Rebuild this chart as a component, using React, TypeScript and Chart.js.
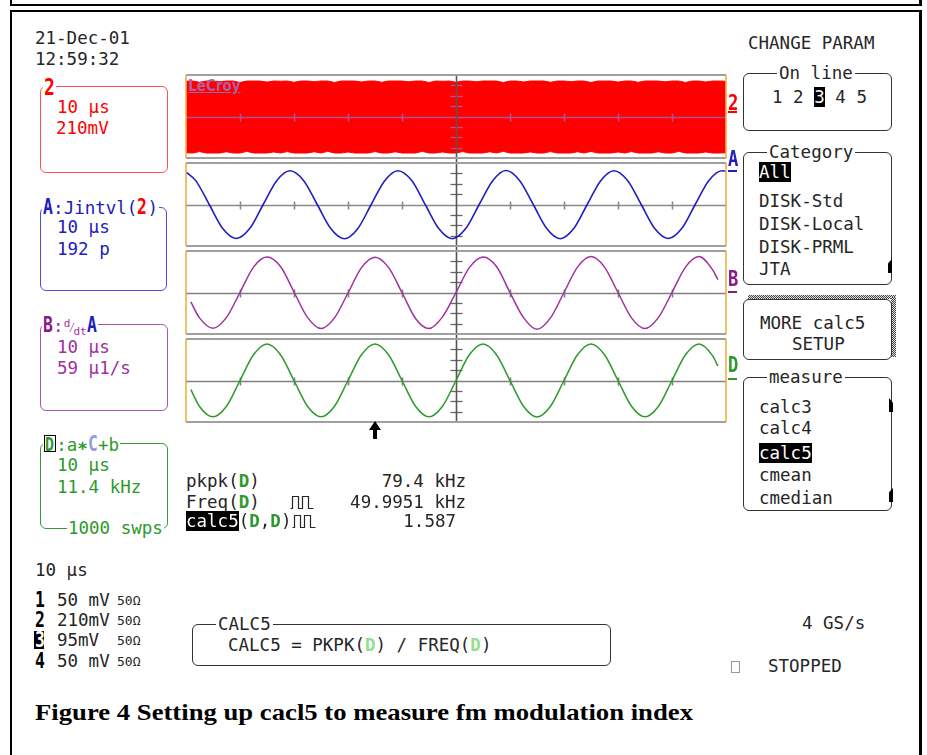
import React, { useEffect, useRef } from "react";
import { Chart, registerables } from "chart.js";

Chart.register(...registerables);

// ---------------- data ----------------
// horizontal unit: graticule divisions (10 µs/div), vertical unit: divisions (±4 per trace grid)
const TIME_DIVS = [1, 2, 3, 4, 6, 7, 8, 9];
const LEVEL_TICKS = [-3, -2, -1, 1, 2, 3];
const CENTER_DIV = 5;

// Channel 2 (FM carrier, unresolved at 10 µs/div) : top and bottom envelope, one value every 1/8 div
const CH2_STEP = 0.125;
const ch2Upper = [
  3.40, 3.42, 3.30, 3.42, 3.42, 3.35, 3.42, 3.42, 3.28, 3.42,
  3.42, 3.42, 3.32, 3.42, 3.40, 3.42, 3.30, 3.42, 3.42, 3.36,
  3.42, 3.42, 3.28, 3.42, 3.42, 3.42, 3.33, 3.42, 3.42, 3.30,
  3.42, 3.42, 3.42, 3.35, 3.42, 3.42, 3.28, 3.42, 3.40, 3.42,
  3.30, 3.42, 3.42, 3.35, 3.42, 3.42, 3.42, 3.28, 3.42, 3.42,
  3.33, 3.42, 3.42, 3.42, 3.30, 3.42, 3.42, 3.36, 3.42, 3.42,
  3.28, 3.42, 3.42, 3.42, 3.32, 3.42, 3.42, 3.30, 3.42, 3.42,
  3.42, 3.35, 3.42, 3.42, 3.28, 3.42, 3.42, 3.33, 3.42, 3.42,
  3.40,
];
const ch2Lower = [
  -3.50, -3.52, -3.38, -3.52, -3.52, -3.52, -3.40, -3.52, -3.52, -3.36,
  -3.52, -3.52, -3.52, -3.42, -3.52, -3.38, -3.52, -3.52, -3.52, -3.40,
  -3.52, -3.36, -3.52, -3.52, -3.42, -3.52, -3.52, -3.52, -3.38, -3.52,
  -3.52, -3.40, -3.52, -3.52, -3.52, -3.36, -3.52, -3.52, -3.42, -3.52,
  -3.52, -3.38, -3.52, -3.52, -3.52, -3.40, -3.52, -3.36, -3.52, -3.52,
  -3.52, -3.42, -3.52, -3.52, -3.38, -3.52, -3.52, -3.52, -3.40, -3.52,
  -3.36, -3.52, -3.52, -3.52, -3.42, -3.52, -3.38, -3.52, -3.52, -3.52,
  -3.40, -3.52, -3.52, -3.36, -3.52, -3.52, -3.52, -3.42, -3.52, -3.52,
  -3.50,
];

// Trace A : Jintvl(2)
const traceA_t = [0, 0.18, 0.43, 0.68, 0.93, 1.18, 1.43, 1.68, 1.925, 2.18, 2.43, 2.68, 2.93, 3.18, 3.43, 3.68, 3.925, 4.18, 4.43, 4.68, 4.93, 5.18, 5.43, 5.68, 5.925, 6.18, 6.43, 6.68, 6.93, 7.18, 7.43, 7.68, 7.925, 8.18, 8.43, 8.68, 8.93, 9.18, 9.43, 9.68, 9.925, 10];
const traceA_v = [3.12, 2.3, 0, -2.32, -3.28, -2.32, 0, 2.3, 3.25, 2.3, 0, -2.32, -3.3, -2.33, 0, 2.3, 3.26, 2.31, 0, -2.32, -3.3, -2.32, 0, 2.3, 3.28, 2.3, 0, -2.32, -3.3, -2.32, 0, 2.3, 3.26, 2.3, 0, -2.32, -3.28, -2.32, 0, 2.3, 3.26, 3.22];

// Trace B : d/dt A
const traceB_t = [0.09, 0.25, 0.5, 0.75, 1.0, 1.25, 1.5, 1.75, 2.0, 2.25, 2.5, 2.75, 3.0, 3.25, 3.5, 3.75, 4.0, 4.25, 4.5, 4.75, 5.0, 5.25, 5.5, 5.75, 6.0, 6.25, 6.5, 6.75, 7.0, 7.25, 7.5, 7.75, 8.0, 8.25, 8.5, 8.75, 9.0, 9.25, 9.5, 9.75, 9.85];
const traceB_v = [-0.9, -2.45, -3.45, -2.4, 0, 2.45, 3.42, 2.5, 0.05, -2.4, -3.48, -2.45, -0.05, 2.4, 3.4, 2.42, 0, -2.5, -3.48, -2.35, 0, 2.42, 3.42, 2.5, 0, -2.42, -3.55, -2.45, 0, 2.45, 3.46, 2.45, 0, -2.45, -3.48, -2.4, 0, 2.45, 3.46, 2.2, 1.25];

// Trace D : a*C+b
const traceD_t = [0.09, 0.25, 0.5, 0.75, 1.0, 1.25, 1.5, 1.75, 2.0, 2.25, 2.5, 2.75, 3.0, 3.25, 3.5, 3.75, 4.0, 4.25, 4.5, 4.75, 5.0, 5.25, 5.5, 5.75, 6.0, 6.25, 6.5, 6.75, 7.0, 7.25, 7.5, 7.75, 8.0, 8.25, 8.5, 8.75, 9.0, 9.25, 9.5, 9.75, 9.85];
const traceD_v = [-0.88, -2.5, -3.5, -2.48, 0, 2.48, 3.52, 2.48, 0, -2.48, -3.5, -2.48, 0, 2.48, 3.52, 2.48, 0, -2.48, -3.5, -2.48, 0, 2.5, 3.52, 2.48, 0, -2.48, -3.52, -2.48, 0, 2.48, 3.52, 2.48, 0, -2.48, -3.5, -2.48, 0, 2.48, 3.52, 2.4, 1.4];

// menus and readouts
const onLineItems = ["1", "2", "3", "4", "5"];
const onLineSelected = "3";
const categoryItems = ["All", "DISK-Std", "DISK-Local", "DISK-PRML", "JTA"];
const categorySelected = "All";
const measureItems = ["calc3", "calc4", "calc5", "cmean", "cmedian"];
const measureSelected = "calc5";
const readoutValues = ["79.4 kHz", "49.9951 kHz", "1.587"];
const channelRows = [
  { n: "1", v: "50 mV", z: "50Ω" },
  { n: "2", v: "210mV", z: "50Ω" },
  { n: "3", v: "95mV", z: "50Ω" },
  { n: "4", v: "50 mV", z: "50Ω" },
];

// ---------------- styling ----------------
const MONO = '"DejaVu Sans Mono", "Liberation Mono", monospace';
const FS = 17.5;
const CW = FS * 0.602;
const INK = "#262626";
const RED = "#ff0000";
const BLUE = "#2020c0";
const PURPLE = "#a030a0";
const GREEN = "#2c9a2c";

const GX = 186;
const GW = 540;
const PANEL_TOP = 75;
const PANEL_PITCH = 88;
const PANEL_H = 83;

const pts = (t: number[], v: number[]) => t.map((x, i) => ({ x, y: v[i] }));

function drawGraticule(chart: any, o: any, part: "grid" | "frame") {
  const { ctx, chartArea: a, scales } = chart;
  const x = scales.x, y = scales.y;
  const ln = (x1: number, y1: number, x2: number, y2: number) => {
    ctx.beginPath();
    ctx.moveTo(x1, y1);
    ctx.lineTo(x2, y2);
    ctx.stroke();
  };
  ctx.save();
  if (part === "grid") {
    const yc = Math.round(y.getPixelForValue(0)) + 0.5;
    ctx.strokeStyle = o.hColor;
    ctx.lineWidth = 1.6;
    ln(a.left, yc, a.right, yc);
    for (const d of TIME_DIVS) {
      const px = Math.round(x.getPixelForValue(d)) + 0.5;
      ln(px, yc - 4, px, yc + 4);
    }
    const xc = Math.round(x.getPixelForValue(CENTER_DIV)) + 0.5;
    ctx.strokeStyle = o.tickColor;
    ctx.lineWidth = 1.3;
    for (const v of LEVEL_TICKS) {
      const py = Math.round(y.getPixelForValue(v)) + 0.5;
      ln(xc - 6, py, xc + 6, py);
    }
    ctx.strokeStyle = "#555555";
    ctx.lineWidth = 1.6;
    ln(xc, o.extendTop ? 0 : a.top, xc, o.extendBottom ? chart.height : a.bottom);
  } else {
    ctx.strokeStyle = "#a0a0a0";
    ctx.lineWidth = 2;
    ln(a.left, a.top, a.right, a.top);
    ln(a.left, a.bottom, a.right, a.bottom);
    ctx.strokeStyle = "#f0b040";
    ctx.lineWidth = 1.6;
    ln(a.left, a.top, a.left, a.bottom);
    ln(a.right, a.top, a.right, a.bottom);
  }
  ctx.restore();
}

const graticulePlugin = {
  id: "graticule",
  beforeDatasetsDraw(chart: any, _a: any, o: any) {
    if (!o.onTop) drawGraticule(chart, o, "grid");
  },
  afterDatasetsDraw(chart: any, _a: any, o: any) {
    if (o.onTop) drawGraticule(chart, o, "grid");
    drawGraticule(chart, o, "frame");
  },
};

function ScopePanel({ index, makeDatasets, grid }: any) {
  const ref = useRef<HTMLCanvasElement>(null);
  const W = GW + 6;
  const H = PANEL_PITCH;
  useEffect(() => {
    const chart = new Chart(ref.current as HTMLCanvasElement, {
      type: "line",
      data: { datasets: makeDatasets() },
      options: {
        responsive: false,
        animation: false,
        events: [],
        layout: { padding: { left: 3, right: 3, top: 2, bottom: H - 2 - PANEL_H } },
        elements: { point: { radius: 0 } },
        scales: {
          x: { type: "linear", min: 0, max: 10, display: false },
          y: { type: "linear", min: -4, max: 4, display: false },
        },
        plugins: {
          legend: { display: false },
          tooltip: { enabled: false },
          graticule: grid,
        } as any,
      },
      plugins: [graticulePlugin],
    });
    return () => chart.destroy();
  }, []);
  const top = PANEL_TOP + index * PANEL_PITCH - 2;
  return (
    <div style={{ position: "absolute", left: GX - 3, top, width: W, height: H }}>
      <canvas ref={ref} width={W} height={H} style={{ width: W, height: H, display: "block" }} />
    </div>
  );
}

function Txt({ x, y, fs = FS, color = INK, bold = false, family = MONO, children, style }: any) {
  return (
    <div
      style={{
        position: "absolute",
        left: x,
        top: y - fs * 0.48,
        fontSize: fs,
        lineHeight: `${fs}px`,
        height: fs,
        fontFamily: family,
        color,
        fontWeight: bold ? 700 : 400,
        whiteSpace: "pre",
        ...style,
      }}
    >
      {children}
    </div>
  );
}

// tall, narrow bold glyph used for trace names
const Tall = ({ children, color, size = 21 }: any) => (
  <span style={{ display: "inline-block", fontWeight: 700, color, fontSize: size, lineHeight: "17px", transform: "scaleX(0.78)", transformOrigin: "left center", width: size * 0.602 * 0.8 }}>
    {children}
  </span>
);

const Inv = ({ children }: any) => <span style={{ background: "#000", color: "#fff" }}>{children}</span>;
const GD = ({ light }: any) => (
  <span style={{ color: light ? "#8fe08f" : GREEN, fontWeight: 700 }}>D</span>
);

function Box({ x, y, w, h, color = "#333", lw = 1.5, r = 6 }: any) {
  return (
    <div
      style={{
        position: "absolute",
        left: x,
        top: y,
        width: w,
        height: h,
        border: `${lw}px solid ${color}`,
        borderRadius: r,
        boxSizing: "border-box",
      }}
    />
  );
}

function Pulse({ x, y }: any) {
  return (
    <svg style={{ position: "absolute", left: x, top: y - 7 }} width={26} height={15}>
      <polyline
        points="0.5,13.5 2.5,13.5 2.5,1.5 8.5,1.5 8.5,13.5 12.5,13.5 12.5,1.5 18.5,1.5 18.5,13.5 23.5,13.5"
        fill="none"
        stroke={INK}
        strokeWidth={1.2}
      />
    </svg>
  );
}

function Wedge({ x, y, shape }: any) {
  return (
    <div
      style={{
        position: "absolute",
        left: x,
        top: y,
        width: 4,
        height: 14,
        background: "#000",
        clipPath: shape,
      }}
    />
  );
}

const WHITE_BG = { background: "#fff", paddingLeft: 1, paddingRight: 1 };

export default function App() {
  const ch2Times = ch2Upper.map((_, i) => i * CH2_STEP);
  const panels = [
    {
      make: () => [
        {
          data: ch2Times.map((t, i) => ({ x: t, y: ch2Upper[i] })),
          borderColor: RED,
          backgroundColor: RED,
          borderWidth: 1,
          fill: "+1",
          tension: 0,
        },
        {
          data: ch2Times.map((t, i) => ({ x: t, y: ch2Lower[i] })),
          borderColor: RED,
          backgroundColor: RED,
          borderWidth: 1,
          fill: false,
          tension: 0,
        },
      ],
      grid: { onTop: true, hColor: "#b4508e", tickColor: "#b4508e", extendTop: false, extendBottom: true },
    },
    {
      make: () => [
        { data: pts(traceA_t, traceA_v), borderColor: BLUE, borderWidth: 1.6, cubicInterpolationMode: "monotone", fill: false },
      ],
      grid: { onTop: false, hColor: "#8a8a8a", tickColor: "#666", extendTop: true, extendBottom: true },
    },
    {
      make: () => [
        { data: pts(traceB_t, traceB_v), borderColor: PURPLE, borderWidth: 1.5, cubicInterpolationMode: "monotone", fill: false },
      ],
      grid: { onTop: false, hColor: "#808080", tickColor: "#666", extendTop: true, extendBottom: true },
    },
    {
      make: () => [
        { data: pts(traceD_t, traceD_v), borderColor: GREEN, borderWidth: 1.5, cubicInterpolationMode: "monotone", fill: false },
      ],
      grid: { onTop: false, hColor: "#808080", tickColor: "#666", extendTop: true, extendBottom: false },
    },
  ];

  const traceLabels = [
    { t: "2", c: RED, y: 102, u: 111 },
    { t: "A", c: BLUE, y: 158, u: 170 },
    { t: "B", c: "#8a1a8a", y: 278, u: 291 },
    { t: "D", c: GREEN, y: 364, u: 378 },
  ];

  const catY = [172, 201, 224, 247, 269];
  const measY = [407, 428, 453, 475, 498];
  const rowY = [600, 620, 640, 661];

  return (
    <div style={{ position: "absolute", left: 0, top: 0, width: 927, height: 755, overflow: "hidden", background: "#fff" }}>
      {/* frames */}
      <div style={{ position: "absolute", left: 10, top: -20, width: 912, height: 26, boxSizing: "border-box", borderLeft: "2px solid #000", borderRight: "3px solid #000", borderBottom: "2px solid #000" }} />
      <div style={{ position: "absolute", left: 10, top: 10, width: 912, height: 800, boxSizing: "border-box", borderLeft: "2px solid #000", borderRight: "3px solid #000", borderTop: "2px solid #000" }} />

      {/* date */}
      <Txt x={35} y={38}>21-Dec-01</Txt>
      <Txt x={35} y={59}>12:59:32</Txt>

      {/* left descriptor boxes */}
      <Box x={40} y={86} w={128} h={87} color="#ff5050" />
      <Txt x={43} y={87} color={RED} style={WHITE_BG}><Tall color={RED} size={23}>2</Tall></Txt>
      <Txt x={57} y={107} color={RED}>10 μs</Txt>
      <Txt x={56} y={128} color={RED}>210mV</Txt>

      <Box x={40} y={207} w={127} h={84} color="#5050d0" />
      <Txt x={42} y={207} color={BLUE} style={WHITE_BG}>
        <Tall color={BLUE}>A</Tall>:Jintvl(<Tall color={RED}>2</Tall>)
      </Txt>
      <Txt x={57} y={227} color={BLUE}>10 μs</Txt>
      <Txt x={57} y={249} color={BLUE}>192 p</Txt>

      <Box x={40} y={324} w={128} h={87} color="#a858a8" />
      <Txt x={42} y={325} color={PURPLE} style={WHITE_BG}>
        <Tall color="#8a1a8a">B</Tall>:
        <span style={{ fontSize: 11, position: "relative", top: -5 }}>d</span>
        <span style={{ fontSize: 12, marginLeft: -2 }}>⁄</span>
        <span style={{ fontSize: 11, position: "relative", top: 3, marginLeft: -2 }}>dt</span>
        <Tall color={BLUE}>A</Tall>
      </Txt>
      <Txt x={57} y={347} color={PURPLE}>10 μs</Txt>
      <Txt x={57} y={368} color={PURPLE}>59 μ1/s</Txt>

      <Box x={40} y={443} w={128} h={86} color="#369a36" />
      <Txt x={43} y={443} color={GREEN} style={WHITE_BG}>
        <span style={{ display: "inline-block", border: "1.5px solid #000", lineHeight: "15px", height: 15, paddingRight: 1 }}><Tall color={GREEN} size={19}>D</Tall></span>:a
        <span style={{ fontWeight: 700 }}>∗</span>
        <Tall color="#9898e8">C</Tall>+b
      </Txt>
      <Txt x={57} y={465} color={GREEN}>10 μs</Txt>
      <Txt x={57} y={487} color={GREEN}>11.4 kHz</Txt>
      <Txt x={67} y={528} color={GREEN} style={WHITE_BG}>1000 swps</Txt>

      {/* scope grids */}
      {panels.map((p, i) => (
        <ScopePanel key={i} index={i} makeDatasets={p.make} grid={p.grid} />
      ))}
      <div style={{ position: "absolute", left: 188, top: 78, fontFamily: '"DejaVu Sans Condensed", "DejaVu Sans", sans-serif', fontWeight: 700, fontSize: 15, lineHeight: "17px", color: "#b060a4", textDecoration: "underline" }}>LeCroy</div>

      {traceLabels.map((l) => (
        <React.Fragment key={l.t}>
          <Txt x={728} y={l.y}><Tall color={l.c} size={22}>{l.t}</Tall></Txt>
          <div style={{ position: "absolute", left: 728, top: l.u, width: 9, height: 2, background: l.c }} />
        </React.Fragment>
      ))}

      {/* trigger arrow */}
      <svg style={{ position: "absolute", left: 366, top: 419 }} width={18} height={22}>
        <polygon points="9,2 3,11 7,11 7,20 11,20 11,11 15,11" fill="#000" />
      </svg>

      {/* readouts */}
      <Txt x={186} y={481}>pkpk(<GD />)</Txt>
      <Txt x={466 - readoutValues[0].length * CW} y={481}>{readoutValues[0]}</Txt>
      <Txt x={186} y={502}>Freq(<GD />)</Txt>
      <Pulse x={290} y={502} />
      <Txt x={466 - readoutValues[1].length * CW} y={502}>{readoutValues[1]}</Txt>
      <Txt x={186} y={521}><Inv>calc5</Inv>(<GD />,<GD />)</Txt>
      <Pulse x={292} y={521} />
      <Txt x={456 - readoutValues[2].length * CW} y={521}>{readoutValues[2]}</Txt>

      {/* right menu */}
      <Txt x={748} y={43}>CHANGE PARAM</Txt>
      <Box x={743} y={73} w={149} h={58} />
      <Txt x={777} y={73} style={{ ...WHITE_BG, paddingLeft: 2, paddingRight: 2 }}>On line</Txt>
      <Txt x={772} y={97}>
        {onLineItems.map((n, i) => (
          <React.Fragment key={n}>
            {i > 0 ? " " : ""}
            {n === onLineSelected ? <Inv>{n}</Inv> : n}
          </React.Fragment>
        ))}
      </Txt>

      <Box x={743} y={152} w={149} h={133} />
      <Txt x={767} y={152} style={{ ...WHITE_BG, paddingLeft: 2, paddingRight: 2 }}>Category</Txt>
      {categoryItems.map((c, i) => (
        <Txt key={c} x={759} y={catY[i]}>{c === categorySelected ? <Inv>{c}</Inv> : c}</Txt>
      ))}
      <Wedge x={888} y={259} shape="polygon(0 30%, 100% 0, 100% 100%, 0 100%)" />

      <div style={{ position: "absolute", left: 748, top: 295, width: 148, height: 4, background: "repeating-conic-gradient(#444 0% 25%, #e0e0e0 0% 50%) 0 0 / 2px 2px" }} />
      <div style={{ position: "absolute", left: 891, top: 297, width: 5, height: 60, background: "repeating-conic-gradient(#444 0% 25%, #e0e0e0 0% 50%) 0 0 / 2px 2px" }} />
      <Box x={743} y={299} w={149} h={61} />
      <Txt x={760} y={323}>MORE calc5</Txt>
      <Txt x={792} y={344}>SETUP</Txt>

      <Box x={743} y={377} w={149} h={134} />
      <Txt x={767} y={377} style={{ ...WHITE_BG, paddingLeft: 2, paddingRight: 2 }}>measure</Txt>
      {measureItems.map((m, i) => (
        <Txt key={m} x={759} y={measY[i]}>{m === measureSelected ? <Inv>{m}</Inv> : m}</Txt>
      ))}
      <Wedge x={889} y={398} shape="polygon(0 0, 100% 35%, 100% 100%, 0 100%)" />
      <Wedge x={889} y={488} shape="polygon(0 30%, 100% 0, 100% 100%, 0 100%)" />

      {/* bottom status */}
      <Txt x={35} y={570}>10 μs</Txt>
      {channelRows.map((r, i) => (
        <React.Fragment key={r.n}>
          {r.n === onLineSelected ? (
            <div style={{ position: "absolute", left: 34, top: rowY[i] - 9, width: 10, height: 18, background: "#000" }} />
          ) : null}
          <Txt x={35} y={rowY[i]}><Tall color={r.n === onLineSelected ? "#fff" : "#000"} size={21}>{r.n}</Tall></Txt>
          <Txt x={57} y={rowY[i]}>{r.v}</Txt>
          <Txt x={117} y={rowY[i]} fs={13}>{r.z}</Txt>
        </React.Fragment>
      ))}

      <Box x={192} y={624} w={419} h={42} />
      <Txt x={216} y={624} style={{ ...WHITE_BG, paddingLeft: 2, paddingRight: 2 }}>CALC5</Txt>
      <Txt x={228} y={645}>CALC5 = PKPK(<GD light />) / FREQ(<GD light />)</Txt>

      <Txt x={802} y={623}>4 GS/s</Txt>
      <div style={{ position: "absolute", left: 731, top: 661, width: 7, height: 10, border: "1px solid #9a9a9a" }} />
      <Txt x={768} y={666}>STOPPED</Txt>

      {/* caption */}
      <svg style={{ position: "absolute", left: 0, top: 690 }} width={927} height={40}>
        <text
          x={35}
          y={30}
          fontFamily='"Liberation Serif", "Times New Roman", serif'
          fontWeight="bold"
          fontSize={23}
          textLength={658}
          lengthAdjust="spacingAndGlyphs"
          fill="#000"
        >
          Figure 4 Setting up cacl5 to measure fm modulation index
        </text>
      </svg>
    </div>
  );
}
